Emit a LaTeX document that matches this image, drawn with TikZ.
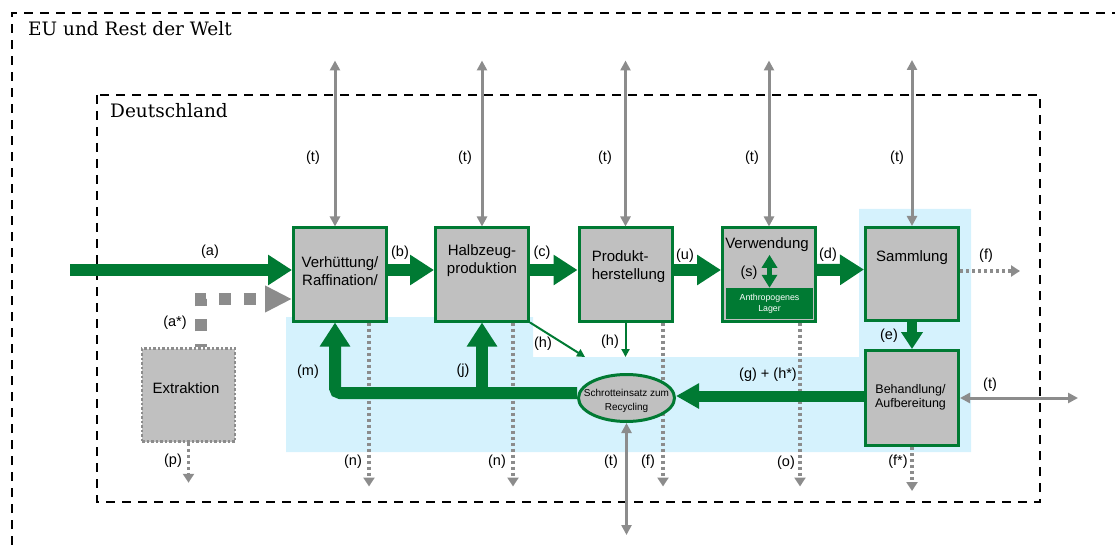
\documentclass[tikz,border=0pt]{standalone}
\usepackage{fontspec}
\setmainfont{DejaVu Serif}
\newfontfamily\arial{Liberation Sans}
\usepackage{xcolor}
\usepackage{tikz}
\usetikzlibrary{calc,positioning,shapes.geometric,arrows.meta}
\definecolor{mfagreen}{HTML}{007A33}
\definecolor{mfagrey}{HTML}{C0C0C0}
\definecolor{mfatrade}{HTML}{8C8C8C}
\definecolor{mfablue}{HTML}{D5F2FD}

\begin{document}
\begin{tikzpicture}[
  x=1pt, y=-1pt,
  stage/.style={draw=mfagreen, fill=mfagrey, line width=3pt, minimum width=93pt, minimum height=93pt, inner sep=0pt},
  boxtext/.style={font=\arial\fontsize{15}{18}\selectfont, align=center, inner sep=0pt},
  tag/.style={font=\arial\fontsize{14.5}{16}\selectfont, inner sep=0pt},
  region/.style={font=\fontsize{18.5}{20}\selectfont, inner sep=0pt, anchor=base west},
  frame/.style={draw=black, line width=2pt, dash pattern=on 9pt off 7pt},
  flow/.style={draw=mfagreen, line width=12pt, -{Triangle[length=24pt,width=29pt]}},
  thinflow/.style={draw=mfagreen, line width=2pt, -{Triangle[length=8pt,width=8pt]}},
  trade/.style={draw=mfatrade, line width=3pt, {Triangle[length=10pt,width=10pt]}-{Triangle[length=10pt,width=10pt]}},
  loss/.style={draw=mfatrade, line width=3.5pt, dash pattern=on 3pt off 3pt, -{Triangle[length=9pt,width=11pt]}}
]
  \useasboundingbox (0,0) rectangle (1115,545);

  % recycling area in light blue
  \fill[mfablue] (286,317) -- (533,317) -- (533,357) -- (859,357) -- (859,209)
    -- (971,209) -- (971,452) -- (286,452) -- cycle;

  % system borders
  \draw[frame] (12,545) -- (12,13) -- (1115,13);
  \draw[frame] (97,95) rectangle (1040,502);
  \node[region] (welt) at (28,36) {EU und Rest der Welt};
  \node[region] (de) at (110,118) {Deutschland};

  % process boxes
  \node[stage] (huette) at (340,274.5) {};
  \node[stage] (halb) at (482,274.5) {};
  \node[stage] (prod) at (625.5,274.5) {};
  \node[stage] (verw) at (769,274.5) {};
  \node[stage] (samm) at (912,274) {};
  \node[stage, minimum height=95pt] (behand) at (912,398) {};
  \node[stage, draw=mfatrade, line width=2.5pt, dash pattern=on 2.5pt off 2pt] (extr) at (188.5,395) {};

  \node[boxtext] (huettetxt) at (340,271) {Verhüttung/\\Raffination/};
  \node[boxtext] (halbtxt) at (482,261) {Halbzeug-\\produktion};
  \node[boxtext, align=left] (prodtxt) at (628.5,267) {Produkt-\\herstellung};
  \node[boxtext] (verwtxt) at (767,245) {Verwendung};
  \node[boxtext] (sammtxt) at (912,258) {Sammlung};
  \node[boxtext, font=\arial\fontsize{12.5}{14}\selectfont] (behandtxt) at (910.5,397) {Behandlung/\\Aufbereitung};
  \node[boxtext] (extrtxt) at (186,388) {Extraktion};

  % stock inside Verwendung
  \node[fill=mfagreen, text=white, minimum width=87pt, minimum height=31pt, inner sep=0pt, align=center,
    font=\arial\fontsize{8.8}{11.5}\selectfont] (lager) at (769.5,303.5) {Anthropogenes\\Lager};
  \draw[draw=mfagreen, line width=5pt, {Triangle[length=13pt,width=15pt]}-{Triangle[length=13pt,width=15pt]}]
    (lager.north) -- ++(0,-33);

  % losses (dotted)
  \draw[loss] (extr.south) -- ++(0,40);
  \draw[loss] ([xshift=29pt]huette.south) -- ++(0,164);
  \draw[loss] ([xshift=31pt]halb.south) -- ++(0,164);
  \draw[loss] ([xshift=37.5pt]prod.south) -- ++(0,164);
  \draw[loss] ([xshift=31pt]verw.south) -- ++(0,164);
  \draw[loss] (behand.south) -- ++(0,44);
  \draw[loss] ([yshift=3pt]samm.east) -- ++(60,0);

  % scrap input to recycling
  \node[ellipse, draw=mfagreen, fill=mfagrey, line width=3pt, minimum width=96pt, minimum height=47pt, inner sep=0pt] (scrap) at (626.5,398) {};
  \node[boxtext, font=\arial\fontsize{10}{14}\selectfont] (scraptxt) at (626.5,401) {Schrotteinsatz zum\\Recycling};

  % trade flows
  \draw[trade] ([xshift=-5pt]huette.north) -- ++(0,-166);
  \draw[trade] (halb.north) -- ++(0,-166);
  \draw[trade] (prod.north) -- ++(0,-166);
  \draw[trade] (verw.north) -- ++(0,-166);
  \draw[trade] (samm.north) -- ++(0,-166);
  \draw[trade] (scrap.south) -- ++(0,112);
  \draw[trade] (behand.east) -- ++(118,0);

  % main flows
  \coordinate (ain) at (70,270);
  \draw[flow] (ain) -- ([yshift=4.5pt]huette.west);
  \draw[flow] ([yshift=4.5pt]huette.east) -- ([yshift=4.5pt]halb.west);
  \draw[flow] ([yshift=4.5pt]halb.east) -- ([yshift=4.5pt]prod.west);
  \draw[flow] ([yshift=4.5pt]prod.east) -- ([yshift=4.5pt]verw.west);
  \draw[flow] ([yshift=4.5pt]verw.east) -- ([yshift=4.5pt]samm.west);
  \draw[flow, line width=10pt, -{Triangle[length=17pt,width=21pt]}] (samm.south) -- (behand.north);
  \draw[flow, line width=11pt, -{Triangle[length=23pt,width=24pt]}] ([yshift=2pt]behand.west) -- ([yshift=2pt]scrap.east);
  \coordinate (ret) at ([yshift=5pt]scrap.west);
  \draw[flow, rounded corners=5pt] (ret) -| ([xshift=-5pt]huette.south);
  \draw[flow] (halb.south |- ret) -- (halb.south);
  \draw[draw=mfatrade, line width=12pt, dash pattern=on 12pt off 13pt, dash phase=9pt,
    -{Triangle[length=27pt,width=25pt]}] ([xshift=12.5pt]extr.north) |- ([yshift=-24.5pt]huette.west);

  % new scrap
  \coordinate (hend) at (585,357);
  \draw[thinflow] (halb.south east) -- (hend);
  \draw[thinflow] (prod.south) -- (prod.south |- hend);

  % flow labels
  \node[tag] (la) at (210,252) {(a)};
  \node[tag] (lb) at (400,253) {(b)};
  \node[tag] (lc) at (542,253) {(c)};
  \node[tag] (lu) at (685,256) {(u)};
  \node[tag] (ld) at (828,255) {(d)};
  \node[tag] (lf) at (986,256) {(f)};
  \node[tag] (le) at (889,336) {(e)};
  \node[tag] (ls) at (749,273) {(s)};
  \node[tag] (last) at (175,323) {(a*)};
  \node[tag] (lm) at (308,372) {(m)};
  \node[tag] (lj) at (463,371) {(j)};
  \node[tag] (lha) at (543,344) {(h)};
  \node[tag] (lhb) at (610,342) {(h)};
  \node[tag] (lg) at (768,375) {(g) + (h*)};
  \node[tag] (ltr) at (990,385) {(t)};
  \node[tag] (lp) at (173,461) {(p)};
  \node[tag] (lna) at (353,462) {(n)};
  \node[tag] (lnb) at (497,462) {(n)};
  \node[tag] (ltb) at (611,462) {(t)};
  \node[tag] (lfb) at (648,462) {(f)};
  \node[tag] (lo) at (786,463) {(o)};
  \node[tag] (lfs) at (898,462) {(f*)};
  \node[tag] (lt1) at (313,158) {(t)};
  \node[tag] (lt2) at (465,158) {(t)};
  \node[tag] (lt3) at (605,158) {(t)};
  \node[tag] (lt4) at (752,158) {(t)};
  \node[tag] (lt5) at (897,158) {(t)};
\end{tikzpicture}
\end{document}
